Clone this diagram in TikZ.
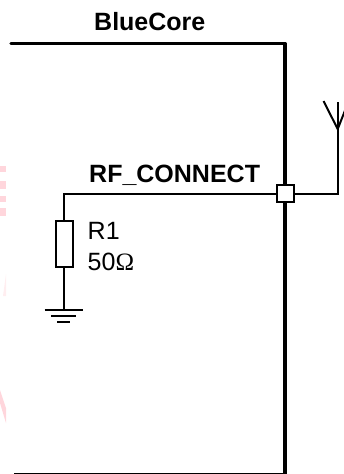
\documentclass[tikz,border=0pt]{standalone}
\usepackage{fontspec}
\setmainfont{Liberation Sans}
\newfontfamily\omegafont{Liberation Serif}
\definecolor{wm}{RGB}{255,214,220}
\definecolor{wmpale}{RGB}{255,238,240}
\tikzset{
  thick line/.style={line width=3.4pt, line cap=round, line join=round},
  thin line/.style={line width=2pt, line join=miter},
  part/.style={draw, line width=2pt, fill=white, inner sep=0pt, outer sep=0pt, minimum width=17pt},
  lbl/.style={inner sep=0pt, anchor=base west, font=\fontsize{25}{30}\selectfont},
  blbl/.style={lbl, font=\fontsize{25}{30}\selectfont\bfseries}
}
\begin{document}
\begin{tikzpicture}[x=1pt,y=-1pt]
\useasboundingbox (0,0) rectangle (344,474);
% pale marks at the left edge
\fill[wm] (0,166) rectangle (6,172);
\fill[wm] (0,181) rectangle (6,189);
\fill[wm] (0,196) rectangle (6,202);
\fill[wm] (0,208) rectangle (6,216);
\fill[wmpale] (3,296) -- (6,274) -- (6,296) -- cycle;
\fill[wm] (0,390) -- (6,408) -- (6,423) -- (0,403) -- cycle;
% chip outline
\coordinate (tl) at (11,43.5);
\coordinate (tr) at (285,43.5);
\coordinate (br) at (285,473.5);
\coordinate (bl) at (14,473.5);
\draw[thick line] (tl) -- (tr) -- (br);
\draw[line width=2pt] (bl) -- (br);
% port, resistor
\node[part, minimum height=17pt] (port) at (285,193.5) {};
\node[part, minimum height=46pt] (r1) at (64,244) {};
% ground
\coordinate (gnd) at (64,309.5);
\coordinate (g1l) at (44.5,309.5);
\coordinate (g1r) at (83,309.5);
\coordinate (g2l) at (51,316);
\coordinate (g2r) at (76,316);
\coordinate (g3l) at (57,322);
\coordinate (g3r) at (70,322);
\coordinate (bend) at (64,193.5);
\draw[thin line] (port.west) -- (bend) -- (r1.north);
\draw[thin line] (r1.south) -- (gnd);
\draw[thin line] (g1l) -- (g1r);
\draw[thin line] (g2l) -- (g2r);
\draw[thin line] (g3l) -- (g3r);
% antenna
\coordinate (ac) at (337.7,193.5);
\coordinate (atop) at (337.7,101.5);
\coordinate (afoot) at (337.7,129);
\coordinate (aleft) at (323.5,101);
\coordinate (aright) at (346,108);
\draw[thin line] (port.east) -- (ac) -- (atop);
\draw[thin line] (aleft) -- (afoot) -- (aright);
% labels
\node[blbl] (title) at (94,30) {BlueCore};
\node[blbl] (net) at (89,182.7) {RF\_CONNECT};
\node[lbl] (rn) at (87.5,239) {R1};
\node[lbl] (rv) at (87.5,270.7) {50{\omegafont Ω}};
\end{tikzpicture}
\end{document}
